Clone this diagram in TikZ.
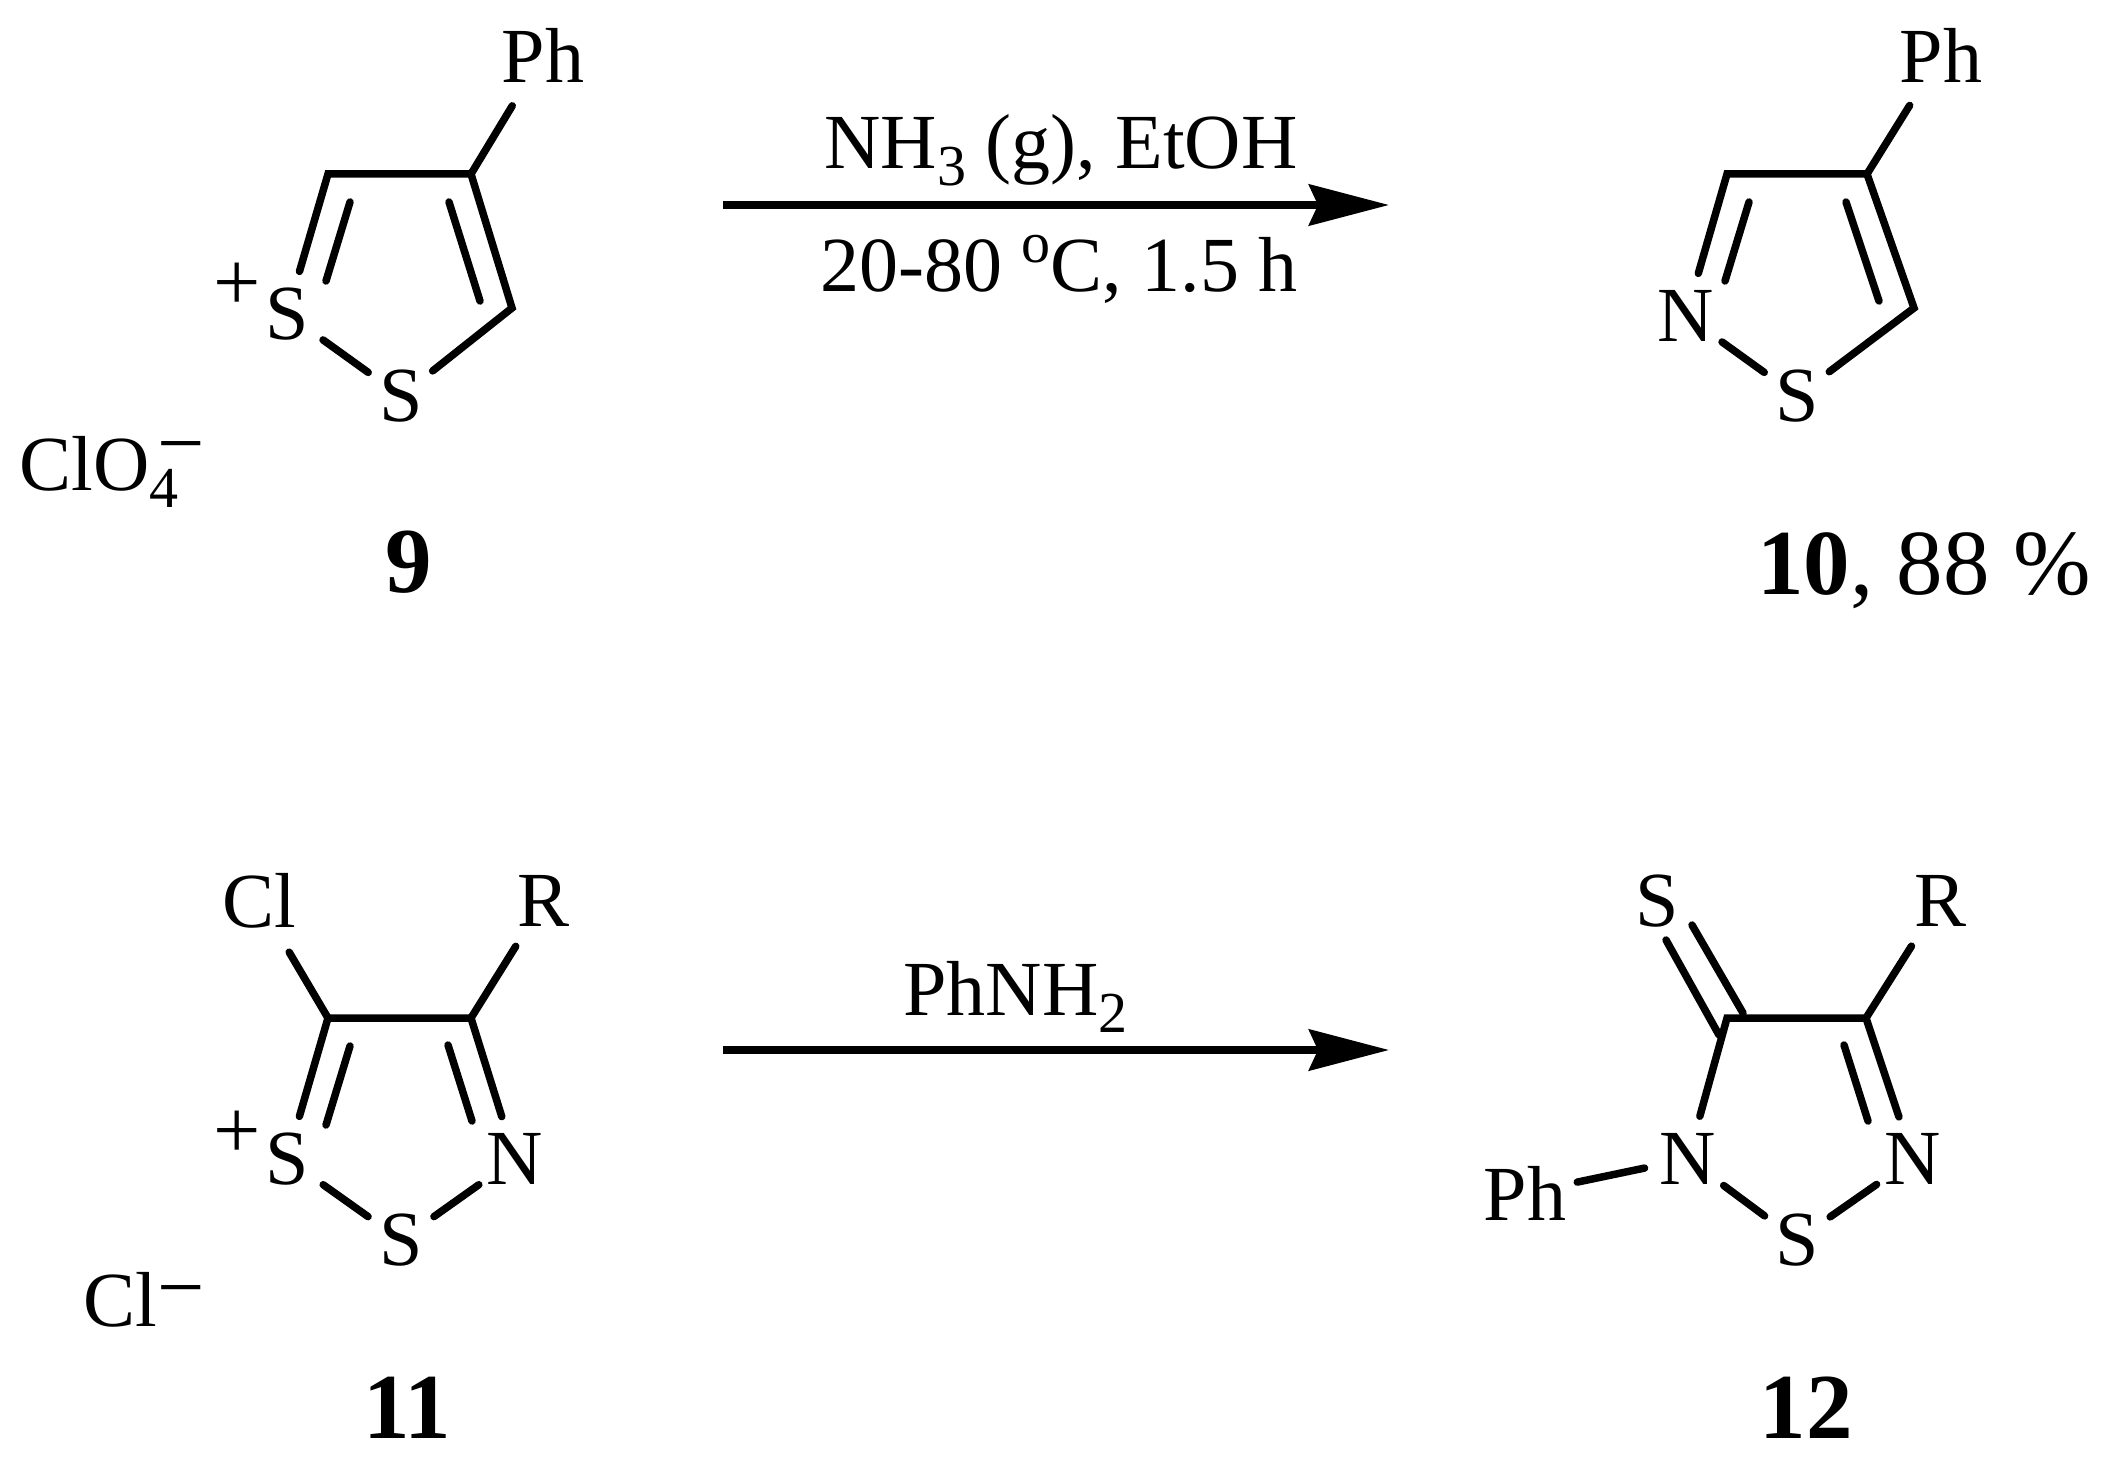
\documentclass[tikz,border=0pt]{standalone}
\usepackage{fontspec}
\setmainfont{Liberation Serif}
\usetikzlibrary{arrows.meta}
\newcommand{\lowsub}[1]{\raisebox{-8.5pt}{\fontsize{29}{29}\selectfont #1}}
\newcommand{\highsup}[1]{\raisebox{14.5pt}{\fontsize{29}{29}\selectfont #1}}
\newcommand{\chargeminus}[1]{\raisebox{#1}{\fontsize{42}{42}\selectfont −}}
\tikzset{
  atom/.style={circle,inner sep=0pt,minimum size=40pt,font=\fontsize{39}{39}\selectfont},
  ringatom/.style={atom,minimum size=44pt},
  subst/.style={atom,minimum size=59pt},
  substr/.style={atom,minimum size=53pt},
  txt/.style={inner sep=0pt,anchor=base west,font=\fontsize{39}{39}\selectfont},
  charge/.style={inner sep=0pt,anchor=base,font=\fontsize{42}{42}\selectfont},
  cmpd/.style={inner sep=0pt,anchor=base,font=\fontsize{46.5}{46.5}\selectfont\bfseries},
  bond/.style={line width=3.75pt,line cap=round,line join=miter,black},
  rxn/.style={line width=3.75pt,-{Stealth[length=40pt,width=20.5pt,inset=4.5pt]}}
}
\begin{document}
\begin{tikzpicture}[x=0.5pt,y=-0.5pt]
\useasboundingbox (0,0) rectangle (2118,1466);
% ---------- compound 9
\coordinate (c9a) at (328,174);
\coordinate (c9b) at (471,174);
\coordinate (c9c) at (512,308);
\node[ringatom] (s9a) at (287,314) {S};
\node[atom] (s9b) at (401,396) {S};
\node[subst] (ph9) at (543,55) {Ph};
\node[charge] (plus9) at (237,310) {+};
\node[txt] (clo) at (19,490) {ClO\lowsub{4}\hspace{-10.5pt}\chargeminus{9.5pt}};
\node[cmpd] (n9) at (409,592) {9};
\draw[bond] (s9a) -- (c9a) -- (c9b) -- (c9c) -- (s9b) -- (s9a);
\draw[bond] (c9b) -- (ph9);
\coordinate (d9a) at (350,202); \coordinate (d9b) at (326,281);
\coordinate (d9c) at (449,202); \coordinate (d9d) at (480,301);
\draw[bond] (d9a) -- (d9b);
\draw[bond] (d9c) -- (d9d);
% ---------- compound 10
\coordinate (c10a) at (1727,174);
\coordinate (c10b) at (1867,174);
\coordinate (c10c) at (1914,308);
\node[ringatom] (n10) at (1686,316) {N};
\node[atom] (s10) at (1797,396) {S};
\node[subst] (ph10) at (1941,55) {Ph};
\node[cmpd,anchor=base west] (lab10) at (1757,594) {10\mdseries, 88 \%};
\draw[bond] (n10) -- (c10a) -- (c10b) -- (c10c) -- (s10) -- (n10);
\draw[bond] (c10b) -- (ph10);
\coordinate (d10a) at (1749,202); \coordinate (d10b) at (1725,281);
\coordinate (d10c) at (1846,202); \coordinate (d10d) at (1879,301);
\draw[bond] (d10a) -- (d10b);
\draw[bond] (d10c) -- (d10d);
% ---------- compound 11
\coordinate (c11a) at (328,1018);
\coordinate (c11b) at (471,1018);
\node[ringatom] (s11a) at (287,1159) {S};
\node[atom] (s11b) at (401,1240) {S};
\node[ringatom] (n11) at (515,1159) {N};
\node[subst] (cl11) at (259,901) {Cl};
\node[substr] (r11) at (544,901) {R};
\node[charge] (plus11) at (237,1158) {+};
\node[txt] (cl) at (83,1326) {Cl\chargeminus{5.5pt}};
\node[cmpd] (lab11) at (407,1438) {11};
\draw[bond] (s11a) -- (c11a) -- (c11b) -- (n11);
\draw[bond] (n11) -- (s11b) -- (s11a);
\draw[bond] (c11a) -- (cl11);
\draw[bond] (c11b) -- (r11);
\coordinate (d11a) at (350,1046); \coordinate (d11b) at (326,1125);
\coordinate (d11c) at (448,1045); \coordinate (d11d) at (472,1121);
\draw[bond] (d11a) -- (d11b);
\draw[bond] (d11c) -- (d11d);
% ---------- compound 12
\coordinate (c12a) at (1727,1018);
\coordinate (c12b) at (1866,1018);
\node[ringatom] (n12a) at (1688,1159) {N};
\node[ringatom] (n12b) at (1913,1159) {N};
\node[atom] (s12) at (1797,1240) {S};
\node[substr] (ph12) at (1525,1193) {Ph};
\node[substr] (r12) at (1940,901) {R};
\node[atom] (st12) at (1657,901) {S};
\node[cmpd] (lab12) at (1806,1438) {12};
\draw[bond] (n12a) -- (c12a) -- (c12b) -- (n12b);
\draw[bond] (n12b) -- (s12) -- (n12a);
\draw[bond] (n12a) -- (ph12);
\draw[bond] (c12b) -- (r12);
\coordinate (e12a) at (1666,940); \coordinate (e12b) at (1719,1035);
\coordinate (e12c) at (1692,925); \coordinate (e12d) at (1743,1013);
\draw[bond] (e12a) -- (e12b);
\draw[bond] (e12c) -- (e12d);
\coordinate (d12c) at (1844,1045); \coordinate (d12d) at (1868,1121);
\draw[bond] (d12c) -- (d12d);
% ---------- arrows
\coordinate (a1s) at (723,205); \coordinate (a1e) at (1389,205);
\coordinate (a2s) at (723,1050); \coordinate (a2e) at (1389,1050);
\draw[rxn] (a1s) -- (a1e);
\draw[rxn] (a2s) -- (a2e);
\node[txt] (l1) at (824,169) {NH\lowsub{3} (g), EtOH};
\node[txt] (l2) at (820,292) {20-80 \highsup{o}C, 1.5 h};
\node[txt] (l3) at (903,1015) {PhNH\lowsub{2}};
\end{tikzpicture}
\end{document}
